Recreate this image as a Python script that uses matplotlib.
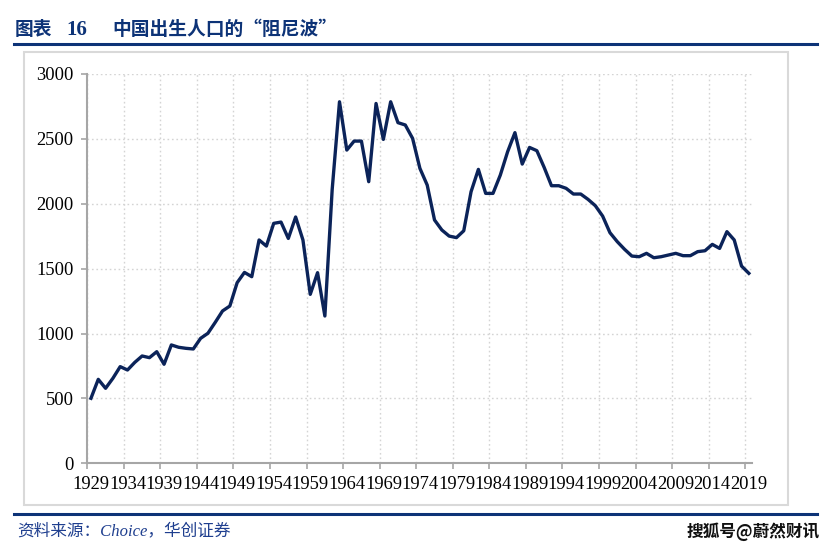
import numpy as np
import matplotlib
matplotlib.use('Agg')
import matplotlib.pyplot as plt
from matplotlib.patches import Rectangle
from matplotlib.lines import Line2D

# births per year (10k persons)
years = list(range(1929, 2020))
births = [501, 647, 578, 655, 745, 719, 778, 827, 814, 860,      # 1929-1938
          763, 912, 894, 886, 881, 963, 1002, 1086, 1174, 1212,   # 1939-1948
          1392, 1471, 1438, 1721, 1674, 1849, 1859, 1733, 1898, 1721,  # 1949-1958
          1302, 1469, 1135, 2110, 2786, 2414, 2483, 2483, 2170, 2773,  # 1959-1968
          2496, 2786, 2625, 2607, 2504, 2273, 2144, 1875, 1798, 1751,  # 1969-1978
          1739, 1792, 2093, 2265, 2080, 2080, 2221, 2401, 2548, 2306,  # 1979-1988
          2434, 2409, 2280, 2139, 2139, 2119, 2075, 2075, 2034, 1985,  # 1989-1998
          1905, 1777, 1708, 1649, 1597, 1592, 1618, 1584, 1592, 1605,  # 1999-2008
          1618, 1600, 1600, 1631, 1638, 1687, 1656, 1785, 1721, 1520,  # 2009-2018
          1464]                                                        # 2019
tick_years = years[::5]
y_ticks = [0, 500, 1000, 1500, 2000, 2500, 3000]

title_head = '图表'
title_num = '16'
title_txt = '中国出生人口的“阻尼波”'
source_txt = '资料来源：Choice，华创证券'
mark_txt = '搜狐号@蔚然财讯'

W, H = 833, 552
fig = plt.figure(figsize=(W / 100, H / 100), dpi=100)
ax = fig.add_axes([87.3 / W, 1 - 463.3 / H, (752.5 - 87.3) / W, (463.3 - 74) / H])

ax.plot(years, births, color='#0b2359', lw=2.4, solid_joinstyle='round', zorder=3)

ax.set_xlim(1928.5, 2019.5)
ax.set_ylim(0, 3000)
ax.set_yticks(y_ticks)
ax.set_xticks([y - 0.5 for y in tick_years])
ax.set_xticklabels([])
ax.set_xticks(tick_years, minor=True)
ax.set_xticklabels([str(y) for y in tick_years], minor=True)

serif = ['Liberation Serif', 'DejaVu Serif']
for lab in ax.get_xticklabels(minor=True) + ax.get_yticklabels():
    lab.set_fontfamily(serif)
    lab.set_fontsize(13.3)
    lab.set_color('black')

ax.tick_params(axis='x', which='major', length=4, width=1.2, color='#a6a6a6', direction='out')
ax.tick_params(axis='x', which='minor', length=0, pad=9)
ax.tick_params(axis='y', length=4, width=1.2, color='#a6a6a6', direction='out', pad=6)

ax.grid(True, which='major', axis='both', color='#d4d4d4', ls=(0, (1.2, 2)), lw=1.0)
for s in ['top', 'right']:
    ax.spines[s].set_visible(False)
for s in ['left', 'bottom']:
    ax.spines[s].set_color('#a6a6a6')
    ax.spines[s].set_linewidth(1.5)
ax.set_axisbelow(True)

# light frame around chart
fig.patches.append(Rectangle((24 / W, 1 - 505 / H), (788 - 24) / W, (505 - 52) / H,
                             transform=fig.transFigure, fill=False,
                             edgecolor='#d9d9d9', lw=1.5))

# title and rules
navy = '#0d3377'
fig.text(15 / W, 1 - 35 / H, title_head, fontsize=13.5, fontweight='bold', color=navy,
         family=['Noto Sans CJK SC'], va='baseline')
fig.text(66 / W, 1 - 35 / H, title_num, fontsize=15, fontweight='bold', color=navy,
         family=['Liberation Serif'], va='baseline')
fig.text(112 / W, 1 - 35 / H, title_txt, fontsize=13.5, fontweight='bold', color=navy,
         family=['Noto Sans CJK SC'], va='baseline')
fig.add_artist(Line2D([14 / W, 817 / W], [1 - 44.3 / H] * 2, color=navy, lw=2.2,
                      transform=fig.transFigure))
fig.add_artist(Line2D([14 / W, 817 / W], [1 - 513.5 / H] * 2, color=navy, lw=2.2,
                      transform=fig.transFigure))

fig.text(17 / W, 1 - 531 / H, source_txt, fontsize=12, style='italic', color='#1f3f8f',
         family=['Liberation Serif', 'Noto Sans CJK SC'], va='center')
fig.text(820 / W, 1 - 532 / H, mark_txt, fontsize=12, fontweight='bold', color='#111111',
         family=['Noto Sans CJK SC'], va='center', ha='right')

fig.savefig('out.png', dpi=100)
